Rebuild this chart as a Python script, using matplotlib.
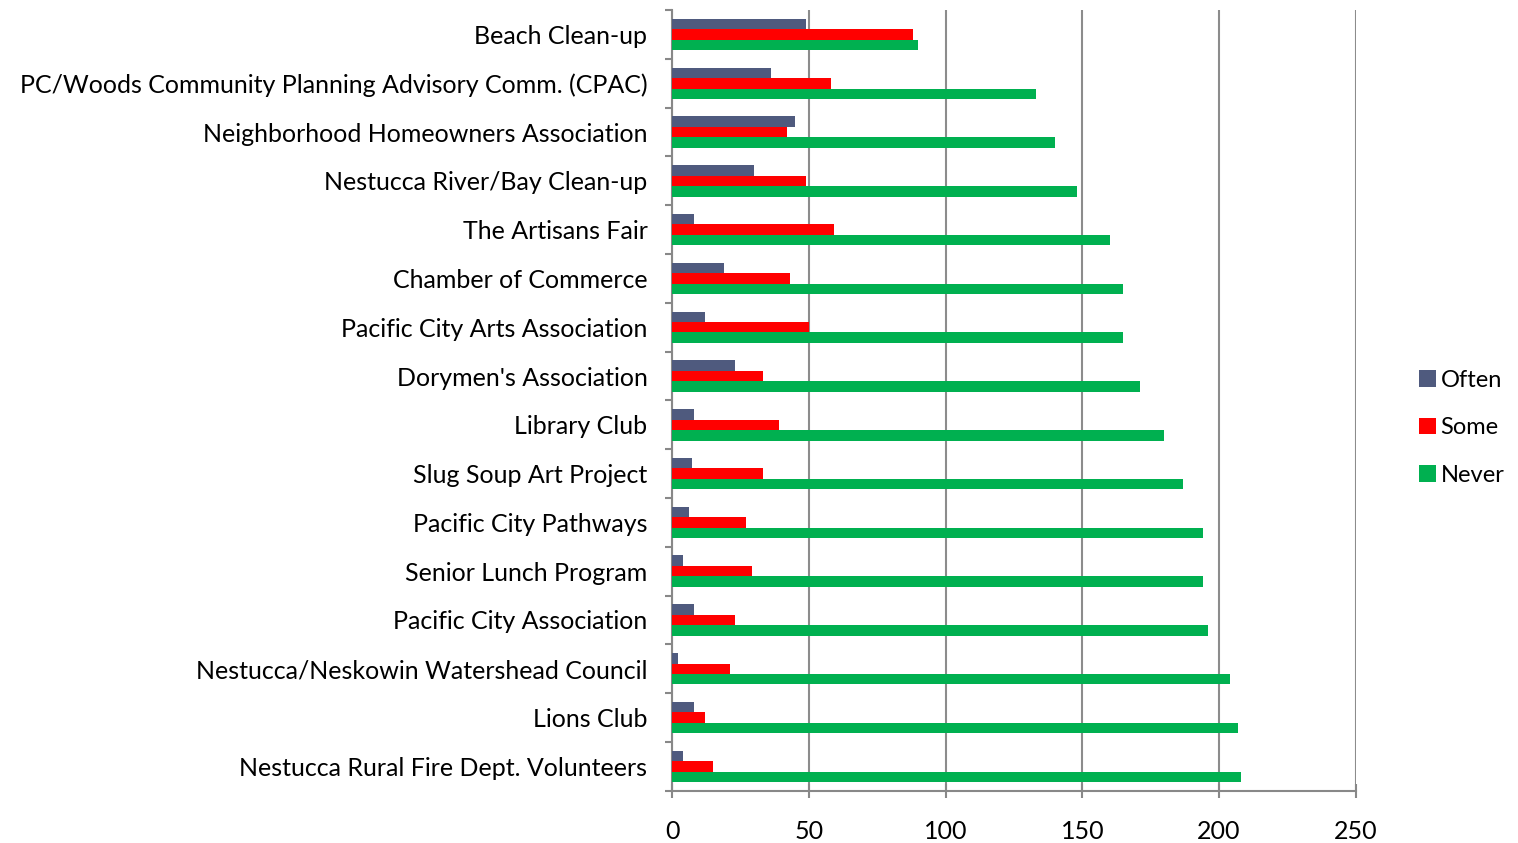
import numpy as np
import matplotlib
matplotlib.use("Agg")
from matplotlib import pyplot as plt
from matplotlib.ticker import FixedLocator

# categories top to bottom
groups = ["Beach Clean-up",
          "PC/Woods Community Planning Advisory Comm. (CPAC)",
          "Neighborhood Homeowners Association",
          "Nestucca River/Bay Clean-up",
          "The Artisans Fair",
          "Chamber of Commerce",
          "Pacific City Arts Association",
          "Dorymen's Association",
          "Library Club",
          "Slug Soup Art Project",
          "Pacific City Pathways",
          "Senior Lunch Program",
          "Pacific City Association",
          "Nestucca/Neskowin Watershead Council",
          "Lions Club",
          "Nestucca Rural Fire Dept. Volunteers"]
often = [49, 36, 45, 30, 8, 19, 12, 23, 8, 7, 6, 4, 8, 2, 8, 4]
some = [88, 58, 42, 49, 59, 43, 50, 33, 39, 33, 27, 29, 23, 21, 12, 15]
never = [90, 133, 140, 148, 160, 165, 165, 171, 180, 187, 194, 194, 196, 204, 207, 208]
xticks = [0, 50, 100, 150, 200, 250]

plt.rcParams['font.family'] = ['Lato', 'DejaVu Sans']

fig = plt.figure(figsize=(15.18, 8.43), dpi=100)
ax = fig.add_axes([0.443, 0.062, 0.45, 0.926])

pos = np.arange(len(groups))
h = 0.215
ax.barh(pos - h, often, height=h, color="#4F5A7E", label="Often", zorder=3)
ax.barh(pos, some, height=h, color="#FF0000", label="Some", zorder=3)
ax.barh(pos + h, never, height=h, color="#00B050", label="Never", zorder=3)

ax.set_ylim(len(groups) - 0.5, -0.5)
ax.set_xlim(0, 250)
ax.set_yticks(pos)
ax.set_yticklabels(groups, fontsize=18)
ax.yaxis.set_minor_locator(FixedLocator(np.arange(-0.5, len(groups), 1)))
ax.tick_params(axis="y", which="major", length=0, pad=18)
ax.tick_params(axis="y", which="minor", length=5, color="#888888", width=1.5)

ax.set_xticks(xticks)
ax.set_xticklabels([str(t) for t in xticks], fontsize=18)
ax.tick_params(axis="x", direction="inout", length=10, color="#888888", width=1.5, pad=16)
ax.grid(axis="x", color="#8C8C8C", linewidth=1.5, zorder=0)

for s in ["top", "right"]:
    ax.spines[s].set_visible(False)
for s in ["left", "bottom"]:
    ax.spines[s].set_color("#888888")
    ax.spines[s].set_linewidth(1.5)

ax.legend(loc="center left", bbox_to_anchor=(1.062, 0.465), frameon=False,
          fontsize=17, handlelength=0.7, handleheight=0.7, handletextpad=0.2,
          labelspacing=1.12)

fig.savefig("out.png", dpi=100)
